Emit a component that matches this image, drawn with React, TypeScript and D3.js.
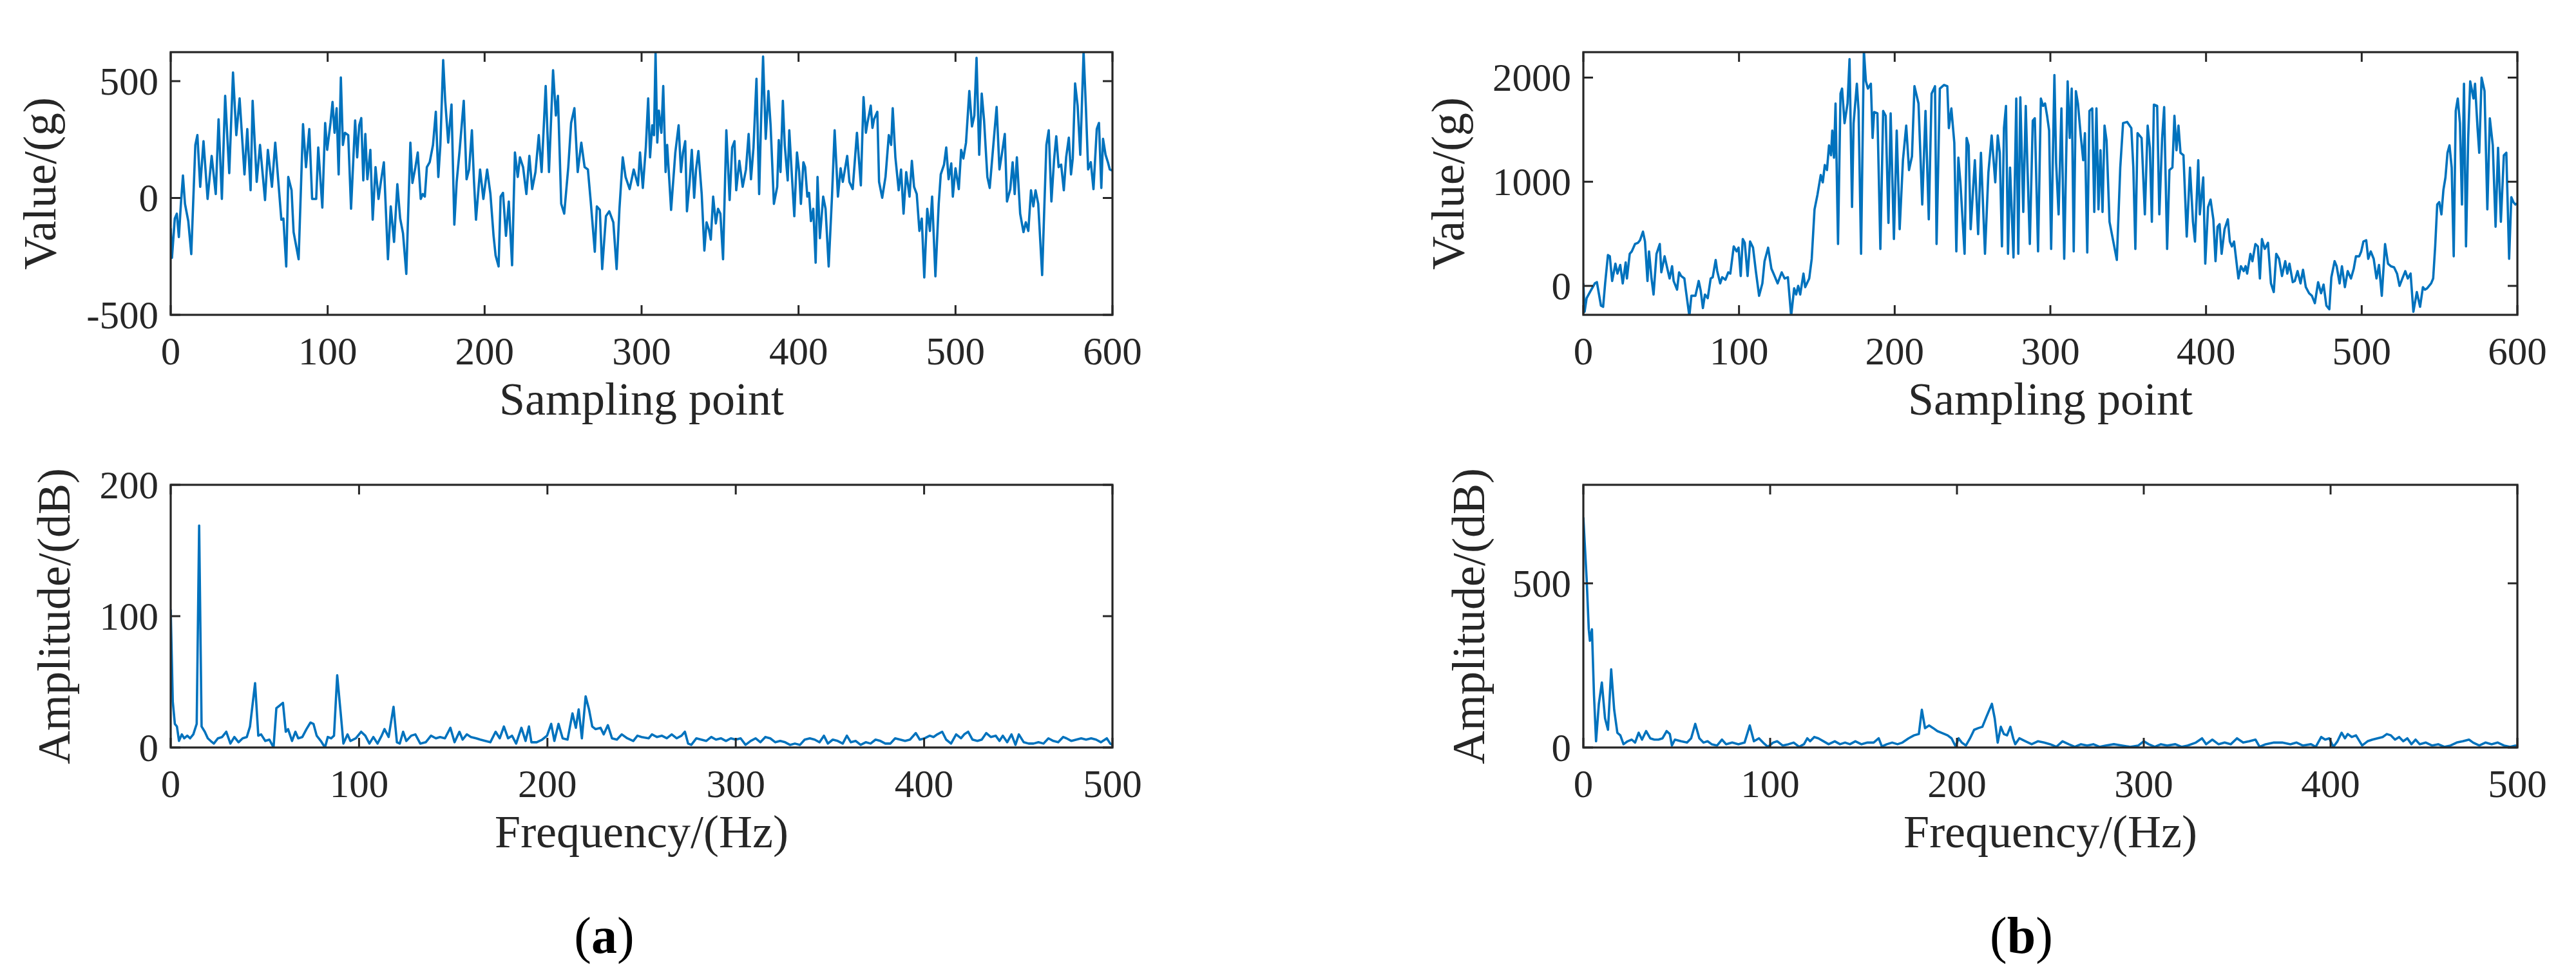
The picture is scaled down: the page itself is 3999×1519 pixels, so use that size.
import React, { useEffect, useRef } from 'react';
import * as d3 from 'd3';

// tick values
const sampleTicks = [0, 100, 200, 300, 400, 500, 600];
const freqTicks = [0, 100, 200, 300, 400, 500];
const valueTicksA = [-500, 0, 500];
const valueTicksB = [0, 1000, 2000];
const ampTicksA = [0, 100, 200];
const ampTicksB = [0, 500];

// (a) time signal: [sampling point, value]
const sigA: [number, number][] = [
  [0,-130],[0.8,-256],[2.6,-88],[3.9,-67],[5.2,-167],[6.5,-25],[7.8,96],[9.1,-25],[11.2,-99],[13.1,-240],
  [15.7,227],[17,269],[18.8,48],[20.9,243],[23.5,-4],[26.1,180],[28.7,17],[30.5,337],[32.6,-4],[34.7,437],
  [37.3,106],[39.7,537],[41.8,269],[43.9,426],[47,101],[48.8,295],[50.9,33],[52.2,416],[54.8,69],[56.9,227],
  [60.1,-9],[61.9,206],[64.5,48],[66.6,237],[70.5,-93],[71.8,-88],[73.6,-293],[74.9,90],[77,33],[78.3,-146],
  [79.6,-193],[81.5,-262],[84.3,316],[86.2,132],[88.3,295],[90.1,-4],[92.7,-4],[94,216],[96.6,-41],[98.4,321],
  [99.7,206],[101.8,321],[103.1,411],[104.4,279],[105.7,384],[107,101],[108.4,516],[109.7,227],[111,279],[113.1,269],
  [114.9,-46],[117.5,332],[118.8,174],[120.1,311],[121.4,342],[122.7,75],[124,274],[125.3,80],[127.2,206],[128.7,-93],
  [130.5,132],[132.4,-4],[133.9,69],[135.8,153],[138.4,-262],[140.2,-36],[142.3,-188],[144.4,59],[146.2,-88],[148,-151],
  [150.1,-325],[152.7,237],[154,64],[155.9,132],[157.4,195],[159.3,-4],[160.6,17],[161.9,6],[163.2,132],[165,153],
  [167.1,227],[168.9,369],[170.5,90],[171.8,227],[173.6,590],[174.9,416],[176.8,237],[178.9,400],[180.7,-114],[182.2,69],
  [184.1,206],[186.7,416],[188.5,80],[190.1,122],[191.9,290],[193.2,75],[194.5,-93],[197.1,122],[199.2,-4],[201.6,122],
  [203.7,17],[205.7,-162],[207,-246],[208.9,-293],[210.2,6],[211.7,22],[213.6,-162],[215.4,-15],[217.5,-288],[219.3,195],
  [221.1,90],[222.5,174],[224.5,132],[226.6,17],[228.5,180],[230.3,38],[232.4,111],[234.5,269],[236.3,111],[238.9,479],
  [241,111],[243.6,547],[245.4,353],[246.7,437],[248.8,-25],[250.7,-67],[253.3,132],[255.1,321],[257.2,384],[259.3,111],
  [261.6,237],[263.7,132],[265.8,122],[267.6,-15],[270.2,-230],[271.5,-36],[273.4,-51],[274.9,-304],[277.3,-78],[279.4,-57],
  [282,-104],[284.1,-304],[285.9,-46],[288,174],[289.8,90],[292.4,38],[295,122],[297.7,54],[299,195],[300.8,43],
  [302.7,216],[304.2,426],[305.4,174],[306.8,311],[307.9,269],[308.9,621],[310,237],[311,374],[312.6,279],[313.8,479],
  [315.3,111],[316.3,227],[318.8,-51],[321.5,195],[323.6,311],[325.1,111],[326.4,195],[327.8,243],[328.9,-57],[330.5,59],
  [332,206],[333.5,1],[334.7,122],[336.2,201],[338.3,17],[340,-225],[341.4,-104],[342.9,-136],[344.1,-178],[345.6,6],
  [347.3,-109],[348.7,-46],[350.2,-67],[351.9,-262],[354,290],[356.1,-9],[357.7,216],[359.2,243],[360.3,33],[362.3,159],
  [364.4,48],[366.5,122],[368.2,274],[369.7,80],[371.3,216],[373.2,510],[374.9,17],[376,300],[377.4,605],[379.1,253],
  [380.8,458],[382.2,311],[384.3,-25],[386.4,48],[387.4,248],[388.5,111],[390,416],[391.2,227],[393.1,75],[394.1,290],
  [395.8,90],[397.3,-78],[399,195],[400.4,111],[401.5,-25],[403.1,153],[404.2,132],[405.6,6],[406.7,22],[407.9,-99],
  [409.4,-46],[410.9,-277],[412.1,90],[413.6,-172],[415.7,6],[417.2,-46],[419.2,-293],[421.3,6],[423,290],[425.1,6],
  [426.8,127],[428.2,69],[431,180],[432.4,69],[434.5,38],[437.2,279],[439.7,54],[441.4,432],[442.9,279],[443.9,321],
  [446,395],[447.1,300],[448.1,337],[450.2,369],[451.3,69],[453.3,1],[455.4,90],[457.5,269],[459,227],[460,384],
  [461.7,174],[463.8,33],[465.3,122],[466.9,-67],[468.6,111],[470.7,6],[472.2,159],[473.6,48],[475.3,17],[477,-141],
  [478.5,-88],[480.1,-340],[482,-46],[483.7,-141],[485.1,6],[487.2,-335],[489.3,-25],[490.6,101],[492.7,143],[494.1,216],
  [495.6,80],[497.3,148],[498.3,6],[500,127],[502.1,38],[503.6,206],[505,169],[506.7,237],[508.8,458],[510.5,306],
  [512,353],[513.4,600],[515.1,185],[516.7,447],[518.2,332],[520.3,90],[521.8,43],[524.5,258],[526.2,390],[528,122],
  [529.7,195],[531.4,274],[532.8,-15],[534.9,38],[536.4,153],[537.7,17],[539.1,174],[541.2,-67],[543.3,-146],[544.8,-104],
  [546.4,-141],[548.1,33],[549.6,-36],[551,33],[552.7,-25],[555.2,-330],[556.5,-57],[557.9,227],[559.4,290],[561.1,-15],
  [562.8,164],[564.2,264],[565.7,132],[567.3,143],[569,33],[570.5,174],[572.2,258],[573.6,101],[574.7,169],[576.2,490],
  [577.8,395],[579.5,185],[581.6,626],[583.1,384],[584.5,122],[586.2,153],[587.9,38],[590,295],[591.4,321],[592.9,43],
  [594,253],[595.6,185],[597.1,153],[598.3,122],[600,117],
];

// (b) time signal
const sigB: [number, number][] = [
  [0,24],[0.8,-249],[2.1,-118],[4.7,-47],[7.4,24],[8.7,36],[11.3,-189],[12.7,-201],[14,24],[15.8,296],
  [17,284],[18.5,47],[20.6,213],[21.9,118],[23.7,201],[25.3,24],[27.2,225],[28,71],[29.8,308],[31.1,331],
  [33.2,402],[35.1,414],[36.4,438],[38.3,521],[39.6,426],[41.2,47],[42.2,331],[43.8,71],[45.1,-83],[47,308],
  [49.1,402],[50.1,130],[52.2,284],[53.6,189],[55.4,71],[57,189],[58,47],[60.2,-36],[61.5,130],[62.8,95],
  [64.9,71],[65.9,-47],[68.1,-290],[69.4,-95],[72,-95],[74.1,47],[75.4,-47],[76.8,-213],[78.1,-83],[79.9,-118],
  [81.8,71],[83.1,83],[85,249],[86,142],[87.9,24],[89.2,83],[91.3,59],[93.1,130],[94.4,118],[96.6,379],
  [98.4,331],[99.7,367],[101.1,95],[102.4,450],[103.7,414],[105.5,95],[107.1,426],[109,367],[110.8,142],[112.9,-95],
  [115,24],[116.4,237],[118.7,367],[120.8,166],[122.2,118],[124.8,24],[127.4,130],[129.3,71],[131.4,83],[133.5,-290],
  [135.4,-24],[136.7,-83],[138,0],[139.3,-83],[141.4,118],[142.5,-12],[145.1,71],[146.7,260],[148.5,734],[150.4,876],
  [152.5,1065],[153.8,994],[155.1,1160],[156.5,1112],[157.8,1349],[159.1,1254],[159.9,1491],[161,1231],[162,1751],[163.6,402],
  [165.2,1846],[166.2,1894],[167.8,1562],[169.7,1751],[171,2178],[172.6,757],[173.6,1562],[175.7,1941],[176.8,1680],[178.4,308],
  [180.2,2260],[181.5,1965],[182.8,1894],[184.7,1941],[185.8,1420],[186.8,1669],[188.9,1657],[190.8,355],[192.6,1680],[194.2,1633],
  [196,604],[197.4,1657],[199.5,450],[201.3,1491],[203.2,544],[205.3,1207],[207.4,1539],[209.2,1112],[211.1,1243],[212.7,1917],
  [215.3,1751],[217.7,781],[219.8,1680],[221.9,639],[223.7,1846],[225.9,1917],[226.9,402],[229,1894],[231.7,1929],[233.8,1917],
  [234.8,1515],[236.4,1704],[238.3,1373],[239.6,331],[240.9,1231],[242.2,994],[244.9,308],[246.2,1420],[247.5,1349],[248.8,544],
  [251.5,1207],[253.6,497],[255.4,1278],[258,308],[260.2,1089],[262.3,1444],[264.6,994],[266.2,1444],[267.5,1278],[268.9,379],
  [270.2,1515],[271.5,1728],[272.8,308],[274.1,1136],[276.3,272],[278.1,1799],[279.4,308],[280.7,1811],[282.6,710],[284.2,1728],
  [285.2,1183],[286.8,402],[288.7,1586],[290,1609],[292.1,331],[293.9,1799],[295.3,1728],[296.6,1751],[297.9,1633],[299.2,1491],
  [300.5,355],[302.6,2024],[303.7,1183],[305.3,686],[307.1,1704],[308.9,260],[311.1,1964],[312.4,1420],[313.7,1894],[315,331],
  [316.4,1870],[317.7,1751],[319.5,1444],[321.1,1207],[322.2,1467],[323.7,320],[325.1,1680],[326.9,1704],[328.2,710],[329.6,1704],
  [330.9,734],[332.2,1302],[333.5,710],[334.8,1539],[336.1,1396],[338,615],[342.7,249],[344.9,1136],[346.7,1562],[349.3,1574],
  [352,1515],[353.3,1136],[354.6,355],[356,1467],[358.6,1420],[360.7,686],[362.5,1539],[363.9,1325],[365.2,615],[366.5,1740],
  [368.6,1728],[370,686],[371.8,1420],[373.1,1716],[375,355],[376.5,1112],[378.4,1136],[379.7,1633],[381,1302],[382.3,1539],
  [383.6,1278],[385.5,1254],[387.6,473],[389.7,1136],[391.6,615],[392.9,426],[395,1207],[396,686],[398.2,1041],[399.5,213],
  [401.3,757],[402.9,828],[404.7,639],[406.1,237],[407.4,568],[408.7,592],[410,308],[411.9,544],[414,639],[415.3,426],
  [416.6,379],[418,426],[420.8,71],[422.4,189],[424.2,142],[425.4,189],[426.4,118],[428.5,308],[429.8,237],[431.7,402],
  [433.3,379],[434.6,71],[435.9,450],[437.7,355],[439.8,414],[441.7,24],[443.5,-59],[445.1,308],[446.9,260],[448.8,95],
  [450.9,237],[452.2,118],[453.6,213],[455.7,36],[457,47],[458.8,142],[460.7,24],[462.3,154],[464.1,-12],[466.2,-71],
  [468,-95],[469.9,-166],[472,36],[473.9,-71],[475.5,12],[477.3,-189],[479.2,-225],[480.5,83],[482.6,237],[483.9,189],
  [485.8,24],[487.3,189],[489.2,-12],[491,142],[493.1,71],[494.9,166],[496.3,284],[498.4,284],[499.7,331],[501.1,426],
  [502.9,438],[504.2,260],[505.8,331],[507.7,260],[509.5,71],[511.1,201],[512.9,-95],[515,402],[516.9,213],[518.7,189],
  [520.8,178],[522.7,118],[524.3,0],[526.1,71],[528,142],[529.6,71],[531.4,118],[533.2,-249],[535.4,-59],[537.5,-201],
  [539.3,-12],[540.6,-36],[542,-24],[544.6,24],[545.9,71],[547.2,379],[548.5,781],[549.8,805],[551.2,686],[552.5,923],
  [553.8,1041],[555.1,1278],[556.4,1349],[557.8,1136],[559.1,284],[560.4,1680],[561.7,1799],[563.1,1562],[564.4,781],[565.7,1941],
  [567,379],[568.4,1420],[569.7,1964],[571.8,1799],[572.8,1941],[574.4,1515],[575.5,1278],[577,2000],[578.9,1870],[580.7,734],
  [582.3,1609],[584.2,1349],[586,568],[587.6,1325],[589.4,615],[591.3,1254],[592.9,1278],[594.7,260],[596.1,852],[597.4,805],
  [598.7,781],[600,793],
];

// (a) spectrum: [Hz, dB]
const specA: [number, number][] = [
  [0,105],[1.1,35],[2.2,18],[3.3,16],[4.4,5],[5.9,10],[7.2,7],[8.8,9],[10.3,7],[12,10],
  [13.8,18],[15.1,169],[16.4,16],[18.1,12],[19.7,7],[21.2,5],[22.9,3],[25.1,7],[27.3,8],[29.5,12],
  [31.7,3],[33.8,8],[36,4],[38.2,7],[40.4,8],[42.1,16],[44.8,49],[46.5,9],[48,10],[50.2,5],
  [52.4,6],[54.6,0],[56.1,30],[57.9,32],[59.6,34],[61.1,12],[62.3,14],[64.4,5],[66.2,12],[67.7,7],
  [69.9,8],[72.1,14],[74.2,19],[75.8,18],[77.5,9],[79.7,5],[81.9,0],[83.4,8],[85.2,7],[86.7,9],
  [88.4,55],[90.2,27],[91.7,3],[93.9,10],[95.4,5],[98.3,7],[101.1,12],[103.3,9],[105.5,3],[107.6,8],
  [109.8,3],[112,9],[113.5,14],[115.7,8],[118.3,31],[120.1,4],[121.6,3],[123.4,12],[125.1,5],[127.7,9],
  [129.9,10],[132.5,3],[135.4,4],[138.2,9],[140.8,7],[143,8],[145.6,7],[148.5,15],[150.7,4],[153.3,12],
  [155,6],[157.2,10],[159.4,8],[162.2,7],[164.4,6],[167,5],[169.7,4],[172.5,12],[174.7,7],[176.9,16],
  [179.1,7],[181.2,9],[183.4,3],[186.2,15],[188.4,5],[190.2,16],[191.5,4],[194.3,4],[197.2,6],[199.8,9],
  [202,18],[203.7,5],[205.9,18],[208.1,7],[210.7,6],[213.3,26],[215.1,15],[216.6,29],[218.3,7],[220.3,39],
  [222.1,29],[223.8,16],[225.5,14],[228.2,15],[229.9,10],[232.1,17],[234.3,7],[236.9,6],[239.5,10],[242.4,7],
  [245.6,5],[247.8,9],[250,8],[253.8,7],[255.5,10],[258.1,8],[260.7,9],[263.4,7],[266,10],[268.6,7],
  [271.2,9],[273,12],[274.7,3],[276.4,2],[279.1,7],[281.7,6],[284.3,5],[287,8],[289.5,6],[292.1,7],
  [294.8,5],[297.4,7],[300,6],[302.6,7],[305.2,2],[307.9,5],[310.5,7],[313.1,4],[315.7,8],[318.3,7],
  [321,4],[323.6,5],[326.2,4],[328.8,2],[331.4,3],[334.1,2],[336.6,6],[339.3,7],[341.9,6],[344.5,4],
  [346.8,9],[348.9,3],[351.5,6],[354.1,5],[356.8,3],[359,9],[361.1,4],[363.7,5],[366.3,2],[369,4],
  [371.6,3],[374.2,6],[376.8,5],[379.4,3],[382.1,3],[384.6,7],[387.3,6],[389.9,5],[392.5,6],[395.6,11],
  [397.7,6],[400.3,7],[403,9],[405,8],[407,10],[409.6,12],[411.7,6],[414.3,3],[417,10],[419.6,7],
  [421.3,10],[423.4,12],[425.7,6],[428.3,5],[430.6,6],[433,11],[435.4,8],[438,9],[440,5],[441.8,9],
  [444.1,4],[446.4,10],[448.5,2],[450.3,10],[452.9,4],[455.5,3],[458.1,3],[460.7,4],[463.4,3],[466,7],
  [468.6,5],[471.2,4],[473.8,8],[475.6,7],[478.2,5],[480.8,6],[483.4,7],[486,6],[488.7,7],[491.3,6],
  [493.9,4],[497,7],[498.8,3],[500,2],
];

// (b) spectrum
const specB: [number, number][] = [
  [0,701],[1.8,509],[2.9,360],[3.5,325],[4.6,360],[5.7,159],[6.8,19],[8.3,133],[9.9,198],[11.6,89],
  [13.2,54],[14.9,238],[16.5,115],[18.2,45],[19.8,37],[21.5,10],[23.7,19],[25.9,24],[27.7,15],[29.6,45],
  [31.4,24],[33.6,50],[35.8,28],[38,24],[40.2,24],[42.4,28],[44.6,50],[46.3,41],[47.4,6],[49,24],
  [52.3,19],[55.5,15],[57.7,28],[59.9,72],[62.1,28],[64.3,15],[66.5,19],[68.7,10],[71.6,6],[74.2,24],
  [76.4,10],[79.7,15],[83,10],[86.3,15],[89.1,67],[91.3,19],[94,28],[96.2,15],[98.8,2],[101.6,15],
  [103.8,19],[106.7,6],[109.8,10],[112.6,15],[115.5,2],[118.1,10],[119.9,28],[121.4,19],[123.6,32],[125.8,28],
  [128.6,19],[131.3,10],[134.6,19],[137.4,10],[140.1,15],[142.7,10],[145.6,19],[148.8,10],[152.1,15],[155.4,15],
  [158.1,28],[159.8,3],[162.5,10],[165.3,15],[168.2,10],[170.8,15],[174.1,28],[177,37],[179.6,41],[181.2,115],
  [182.9,59],[185.1,67],[187.3,59],[189.5,50],[191.7,45],[195,37],[197.1,28],[199.3,3],[200.9,28],[202.6,15],
  [204.8,6],[207,28],[209.2,54],[211.4,59],[213.6,63],[215.8,94],[218.7,133],[220.2,89],[221.8,15],[223.5,63],
  [225.1,41],[226.8,37],[228.6,63],[230.1,28],[231.2,10],[233.4,28],[236.7,19],[240,10],[243.3,19],[246.6,15],
  [249.9,10],[253.2,2],[256.5,19],[259.8,10],[263.1,2],[266.4,10],[269.7,6],[273,10],[276.3,2],[279.6,6],
  [284,10],[288.4,6],[292.7,2],[297.1,6],[300,19],[302.6,10],[305.9,2],[309.2,10],[312.5,6],[316.9,10],
  [320.2,2],[323.5,6],[327.9,15],[331.2,28],[333.4,10],[336.7,24],[340,10],[343.3,15],[346.6,10],[349.9,28],
  [353.2,15],[356.5,19],[359.8,24],[362,2],[365.3,10],[369.7,15],[374.1,15],[378.5,10],[381.8,15],[385.1,6],
  [389.5,10],[392.1,2],[395,32],[397.1,24],[399.3,28],[401.5,2],[403.7,19],[405.9,45],[407.7,28],[409.2,41],
  [411.4,32],[413.6,37],[416.9,6],[419.8,19],[422.4,24],[425.1,28],[427.9,32],[430.1,41],[432.3,37],[434.5,24],
  [436.7,32],[438.9,19],[441.1,28],[443.3,10],[445.5,24],[447.7,10],[451,15],[454.3,6],[457.6,10],[460.9,2],
  [464.2,6],[467.5,15],[470.8,19],[474.1,24],[476.3,15],[479.6,6],[482.9,15],[486.2,10],[489.5,15],[492.8,6],
  [496.1,2],[499,6],[500,2],
];

const FONT = '"Liberation Serif", "Times New Roman", Times, serif';
const INK = '#262626';
const BLUE = '#0072BD';

const panels = [
  { id: 'ta', data: sigA, xDomain: [0, 600], yDomain: [-500, 624], xTicks: sampleTicks, yTicks: valueTicksA,
    left: 265, right: 1727, top: 81, bottom: 489, xLabel: 'Sampling point', yLabel: 'Value/(g)', yLabelX: 86 },
  { id: 'tb', data: sigB, xDomain: [0, 600], yDomain: [-278, 2244], xTicks: sampleTicks, yTicks: valueTicksB,
    left: 2458, right: 3908, top: 81, bottom: 489, xLabel: 'Sampling point', yLabel: 'Value/(g)', yLabelX: 2272 },
  { id: 'ba', data: specA, xDomain: [0, 500], yDomain: [0, 200], xTicks: freqTicks, yTicks: ampTicksA,
    left: 265, right: 1727, top: 753, bottom: 1161, xLabel: 'Frequency/(Hz)', yLabel: 'Amplitude/(dB)', yLabelX: 108 },
  { id: 'bb', data: specB, xDomain: [0, 500], yDomain: [0, 800], xTicks: freqTicks, yTicks: ampTicksB,
    left: 2458, right: 3908, top: 753, bottom: 1161, xLabel: 'Frequency/(Hz)', yLabel: 'Amplitude/(dB)', yLabelX: 2304 },
];

const W = 3999;
const H = 1519;

export default function App() {
  const svgRef = useRef<SVGSVGElement>(null);

  useEffect(() => {
    const svg = d3.select(svgRef.current);
    svg.selectAll('*').remove();
    svg.append('rect').attr('width', W).attr('height', H).attr('fill', '#fff');

    const defs = svg.append('defs');

    panels.forEach(p => {
      const x = d3.scaleLinear().domain(p.xDomain).range([p.left, p.right]);
      const y = d3.scaleLinear().domain(p.yDomain).range([p.bottom, p.top]);
      const g = svg.append('g');

      defs.append('clipPath').attr('id', `clip-${p.id}`)
        .append('rect')
        .attr('x', p.left).attr('y', p.top)
        .attr('width', p.right - p.left).attr('height', p.bottom - p.top);

      const line = d3.line<[number, number]>().x(d => x(d[0])).y(d => y(d[1]));
      g.append('path')
        .datum(p.data)
        .attr('clip-path', `url(#clip-${p.id})`)
        .attr('fill', 'none')
        .attr('stroke', BLUE)
        .attr('stroke-width', 3.6)
        .attr('stroke-linejoin', 'round')
        .attr('d', line);

      // inward ticks on all four sides
      const tl = 15;
      p.xTicks.forEach(t => {
        g.append('line').attr('x1', x(t)).attr('x2', x(t)).attr('y1', p.bottom).attr('y2', p.bottom - tl)
          .attr('stroke', INK).attr('stroke-width', 3);
        g.append('line').attr('x1', x(t)).attr('x2', x(t)).attr('y1', p.top).attr('y2', p.top + tl)
          .attr('stroke', INK).attr('stroke-width', 3);
        g.append('text').attr('x', x(t)).attr('y', p.bottom + 77)
          .attr('text-anchor', 'middle').attr('font-family', FONT).attr('font-size', 61)
          .attr('fill', INK).text(t);
      });
      p.yTicks.forEach(t => {
        g.append('line').attr('x1', p.left).attr('x2', p.left + tl).attr('y1', y(t)).attr('y2', y(t))
          .attr('stroke', INK).attr('stroke-width', 3);
        g.append('line').attr('x1', p.right).attr('x2', p.right - tl).attr('y1', y(t)).attr('y2', y(t))
          .attr('stroke', INK).attr('stroke-width', 3);
        g.append('text').attr('x', p.left - 19).attr('y', y(t)).attr('dy', '0.34em')
          .attr('text-anchor', 'end').attr('font-family', FONT).attr('font-size', 61)
          .attr('fill', INK).text(t);
      });

      g.append('rect')
        .attr('x', p.left).attr('y', p.top)
        .attr('width', p.right - p.left).attr('height', p.bottom - p.top)
        .attr('fill', 'none').attr('stroke', INK).attr('stroke-width', 3.2);

      g.append('text')
        .attr('x', (p.left + p.right) / 2).attr('y', p.bottom + 155)
        .attr('text-anchor', 'middle').attr('font-family', FONT).attr('font-size', 72)
        .attr('fill', INK).text(p.xLabel);

      const cy = (p.top + p.bottom) / 2;
      g.append('text')
        .attr('transform', `translate(${p.yLabelX},${cy}) rotate(-90)`)
        .attr('text-anchor', 'middle').attr('font-family', FONT).attr('font-size', 72)
        .attr('fill', INK).text(p.yLabel);
    });

    // sub-figure captions
    [{ label: 'a', cx: 938 }, { label: 'b', cx: 3138 }].forEach(c => {
      const t = svg.append('text')
        .attr('x', c.cx).attr('y', 1480)
        .attr('text-anchor', 'middle').attr('font-family', FONT).attr('font-size', 80)
        .attr('fill', '#000');
      t.append('tspan').text('(');
      t.append('tspan').attr('font-weight', 'bold').text(c.label);
      t.append('tspan').text(')');
    });
  }, []);

  return (
    <div style={{ position: 'absolute', left: 0, top: 0 }}>
      <svg ref={svgRef} width={W} height={H} style={{ display: 'block' }} />
    </div>
  );
}
